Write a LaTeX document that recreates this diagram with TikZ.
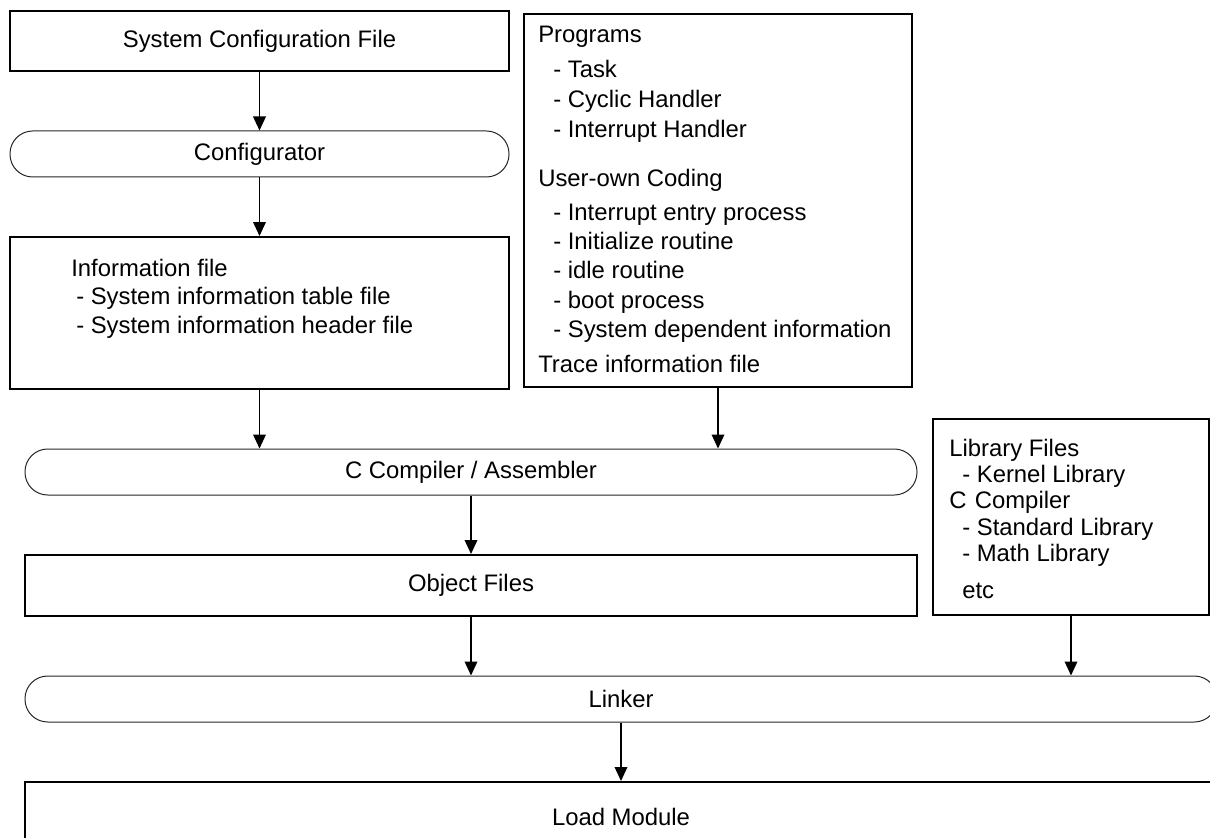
\documentclass[tikz,border=0pt]{standalone}
\usepackage{fontspec}
\setmainfont{Liberation Sans}
\usetikzlibrary{arrows.meta}
\newlength{\pxu}
\setlength{\pxu}{0.75pt}
\begin{document}
\begin{tikzpicture}[x=0.75pt,y=-0.75pt,
  font=\fontsize{17.9}{21}\selectfont,
  rbox/.style={draw, line width=1.5pt, inner sep=0pt},
  stad/.style={draw=black!85, line width=0.75pt, rounded corners=17pt, inner sep=0pt},
  ltxt/.style={anchor=base west, inner sep=0pt},
  arr/.style={-{Triangle[width=9.5pt,length=10.5pt]}, line width=1.1pt}]
\useasboundingbox (0,0) rectangle (1210,838);
\clip (0,0) rectangle (1210,838);

% boxes
\node[rbox, minimum width=499\pxu, minimum height=60\pxu] (scf) at (259.5,41) {System Configuration File};
\node[stad, minimum width=499\pxu, minimum height=46\pxu] (cfg) at (259.5,154) {Configurator};
\node[rbox, minimum width=499\pxu, minimum height=152\pxu] (info) at (259.5,313) {};
\node[rbox, minimum width=388\pxu, minimum height=373\pxu] (prog) at (718,200.5) {};
\node[stad, minimum width=892\pxu, minimum height=46\pxu] (cc) at (471,472) {C Compiler / Assembler};
\node[rbox, minimum width=892\pxu, minimum height=61\pxu] (obj) at (471,585.5) {Object Files};
\node[rbox, minimum width=276\pxu, minimum height=196\pxu] (lib) at (1071,517) {};
\node[stad, minimum width=1192\pxu, minimum height=46\pxu] (lnk) at (621,699) {Linker};
\node[rbox, minimum width=1192\pxu, minimum height=70\pxu] (load) at (621,817) {Load Module};

% information file texts
\node[ltxt] (i1) at (71,276) {Information file};
\node[ltxt] (i2) at (76,304) {- System information table file};
\node[ltxt] (i3) at (76,333) {- System information header file};

% programs texts
\node[ltxt] (p1) at (538,43) {Programs};
\node[ltxt] (p2) at (553,78) {- Task};
\node[ltxt] (p3) at (553,108) {- Cyclic Handler};
\node[ltxt] (p4) at (553,138) {- Interrupt Handler};
\node[ltxt] (p5) at (538,186) {User-own Coding};
\node[ltxt] (p6) at (553,220) {- Interrupt entry process};
\node[ltxt] (p7) at (553,249) {- Initialize routine};
\node[ltxt] (p8) at (553,278) {- idle routine};
\node[ltxt] (p9) at (553,308) {- boot process};
\node[ltxt] (p10) at (553,337) {- System dependent information};
\node[ltxt] (p11) at (538,372) {Trace information file};

% library texts
\node[ltxt] (l1) at (949,456) {Library Files};
\node[ltxt] (l2) at (962,482) {- Kernel Library};
\node[ltxt] (l3) at (949,508) {C\hspace{0.35em}Compiler};
\node[ltxt] (l4) at (962,535) {- Standard Library};
\node[ltxt] (l5) at (962,561) {- Math Library};
\node[ltxt] (l6) at (962,598) {etc};

% arrows
\draw[arr] (scf.south) -- (cfg.north);
\draw[arr] (cfg.south) -- (info.north);
\draw[arr] (info.south) -- (info.south |- cc.north);
\draw[arr] (prog.south) -- (prog.south |- cc.north);
\draw[arr] (cc.south) -- (obj.north);
\draw[arr] (obj.south) -- (obj.south |- lnk.north);
\draw[arr] (lib.south) -- (lib.south |- lnk.north);
\draw[arr] (lnk.south) -- (load.north);
\end{tikzpicture}
\end{document}
